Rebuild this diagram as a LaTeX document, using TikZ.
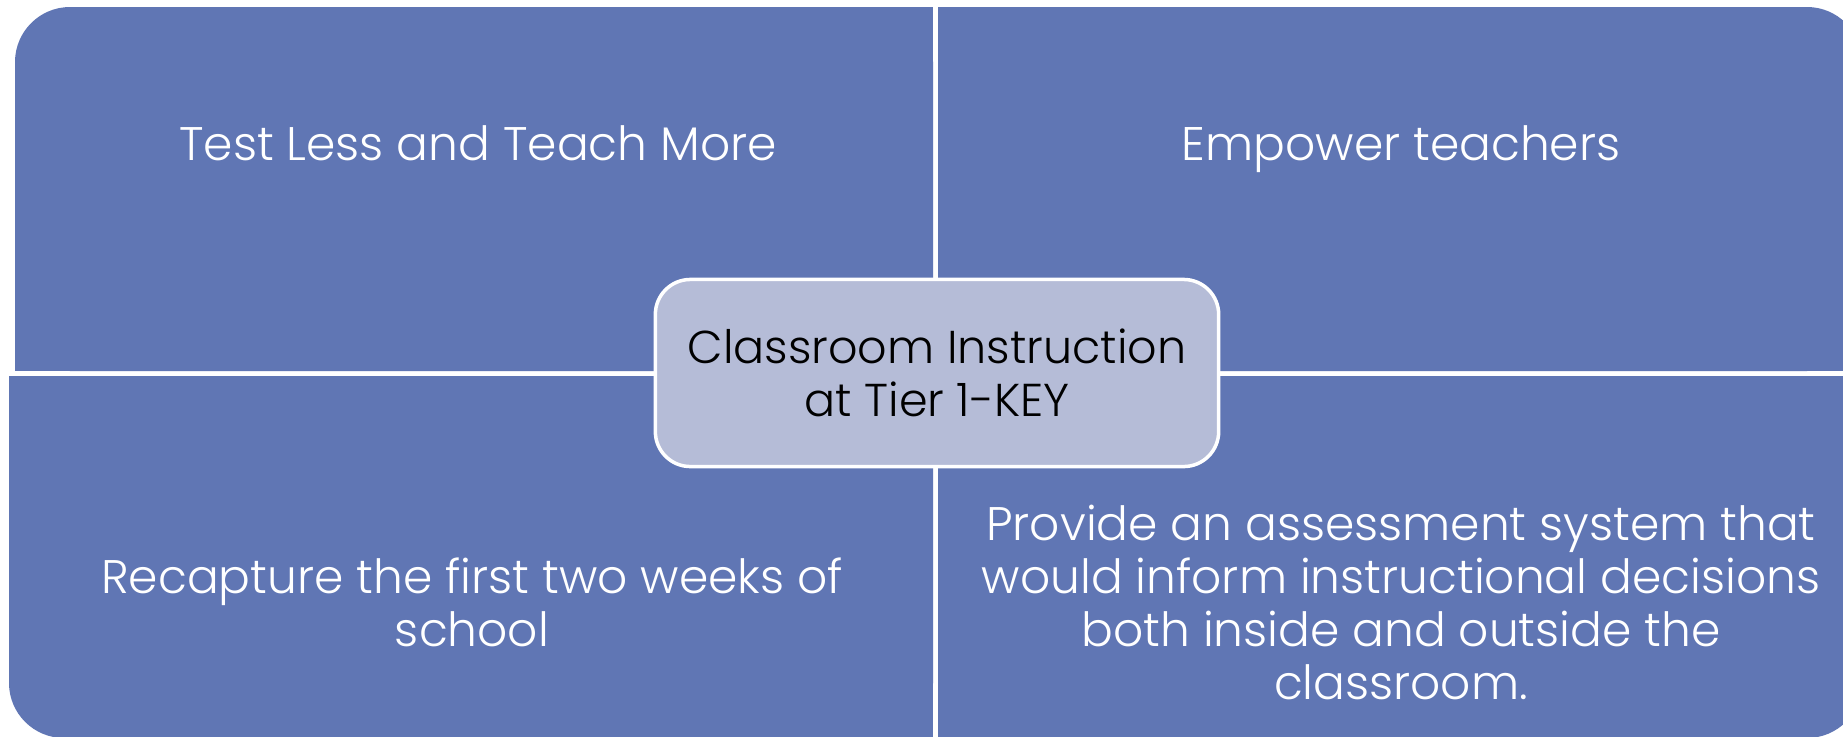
\documentclass[tikz,border=0pt]{standalone}
\usepackage{fontspec}
\setmainfont{Poppins Light}
\definecolor{quadblue}{RGB}{96,118,180}
\definecolor{centerfill}{RGB}{181,188,215}
\tikzset{
  quadtext/.style={text=white, align=center, font=\fontsize{13.4}{15}\selectfont, inner sep=0pt, anchor=base},
  centertext/.style={text=black, align=center, font=\fontsize{13.1}{15}\selectfont, inner sep=0pt, anchor=base},
}
\begin{document}
\begin{tikzpicture}[x=0.01cm, y=-0.01cm]
\useasboundingbox (0,0) rectangle (1843,736);
\clip (0,0) rectangle (1843,736);
\fill[white] (0,0) rectangle (1843,736);
% top-left quadrant
\fill[quadblue, rounded corners=5.5mm] (15,7) rectangle (933,371);
\fill[quadblue] (80,7) rectangle (933,371);
\fill[quadblue] (15,72) rectangle (933,371);
% top-right quadrant
\fill[quadblue, rounded corners=5.5mm] (938,7) rectangle (1862,371);
\fill[quadblue] (938,7) rectangle (1800,371);
\fill[quadblue] (938,72) rectangle (1862,371);
% bottom-left quadrant
\fill[quadblue, rounded corners=5.5mm] (9,376) rectangle (933,738);
\fill[quadblue] (75,376) rectangle (933,738);
\fill[quadblue] (9,376) rectangle (933,675);
% bottom-right quadrant
\fill[quadblue, rounded corners=5.5mm] (938,376) rectangle (1862,738);
\fill[quadblue] (938,376) rectangle (1800,738);
\fill[quadblue] (938,376) rectangle (1862,675);
% texts (base anchor = baseline of last line)
\node[quadtext] (tl) at (478,160) {Test Less and Teach More};
\node[quadtext] (tr) at (1401,160) {Empower teachers};
\node[quadtext] (bl) at (472,646) {Recapture the first two weeks of\\school};
\node[quadtext] (br) at (1401,699) {Provide an assessment system that\\would inform instructional decisions\\both inside and outside the\\classroom.};
% center
\node[draw=white, line width=0.35mm, fill=centerfill, rounded corners=3.5mm,
      minimum width=5.63cm, minimum height=1.87cm, inner sep=0pt] (c) at (937,373) {};
\node[centertext] (ct) at (937,416) {Classroom Instruction\\at Tier 1-KEY};
\end{tikzpicture}
\end{document}
